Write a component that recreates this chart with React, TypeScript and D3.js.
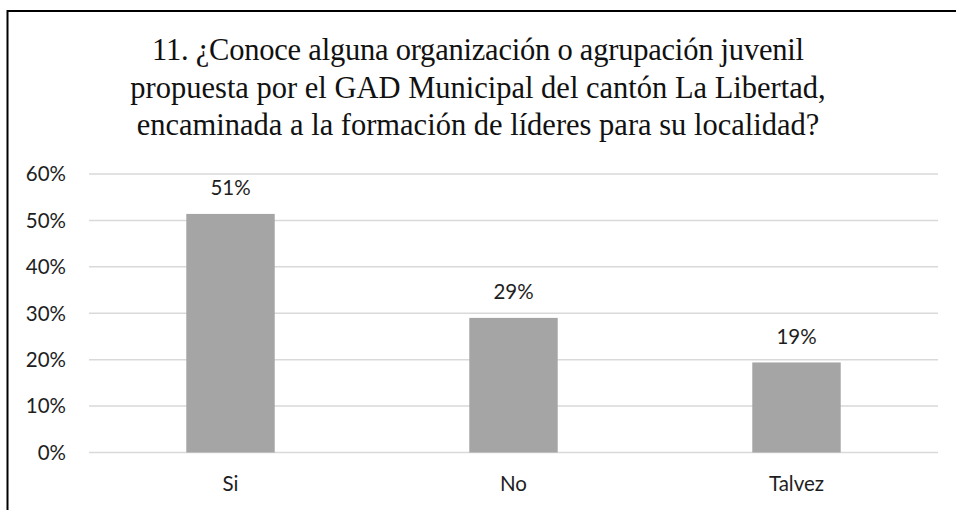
import React from "react";
import * as d3 from "d3";

const categories = ["Si", "No", "Talvez"];
const values = [0.514, 0.29, 0.194];
const valueLabels = ["51%", "29%", "19%"];
const yTicks = [0, 0.1, 0.2, 0.3, 0.4, 0.5, 0.6];
const titleLines = [
  "11. ¿Conoce alguna organización o agrupación juvenil",
  "propuesta por el GAD Municipal del cantón La Libertad,",
  "encaminada a la formación de líderes para su localidad?",
];

const W = 956;
const H = 510;
const plot = { left: 89, right: 938, top: 174, bottom: 452.5 };

export default function App() {
  const x = d3.scaleBand<string>().domain(categories).range([plot.left, plot.right]).padding(0);
  const y = d3.scaleLinear().domain([0, 0.6]).range([plot.bottom, plot.top]);
  const barW = x.bandwidth() * 0.3125;
  const fmt = d3.format(".0%");
  const labelFont = "Lato, 'Open Sans', sans-serif";
  const fs = 20.5;

  return (
    <svg
      width={W}
      height={H}
      style={{ position: "absolute", left: 0, top: 0, background: "#fff" }}
    >
      <rect x={7.5} y={11} width={W + 10} height={H + 10} fill="#fff" stroke="#000" strokeWidth={2} />
      {titleLines.map((t, i) => (
        <text
          key={i}
          x={478}
          y={60 + i * 37.5}
          textAnchor="middle"
          fontFamily="'Liberation Serif', 'Times New Roman', serif"
          fontSize={30.5}
          fill="#111"
          textLength={i === 0 ? 652 : undefined}
        >
          {t}
        </text>
      ))}
      {yTicks.map((t) => (
        <g key={t}>
          <line x1={plot.left} x2={plot.right} y1={y(t)} y2={y(t)} stroke="#d9d9d9" strokeWidth={1.5} />
          <text
            x={66}
            y={y(t)}
            dy="0.36em"
            textAnchor="end"
            fontFamily={labelFont}
            fontSize={fs}
            fill="#1e1e1e"
          >
            {fmt(t)}
          </text>
        </g>
      ))}
      {categories.map((c, i) => {
        const cx = (x(c) as number) + x.bandwidth() / 2;
        return (
          <g key={c}>
            <rect x={cx - barW / 2} y={y(values[i])} width={barW} height={y(0) - y(values[i])} fill="#a5a5a5" />
            <text x={cx} y={y(values[i]) - 18.5} textAnchor="middle" fontFamily={labelFont} fontSize={fs} fill="#1e1e1e">
              {valueLabels[i]}
            </text>
            <text x={cx} y={490.5} textAnchor="middle" fontFamily={labelFont} fontSize={fs} fill="#1e1e1e">
              {c}
            </text>
          </g>
        );
      })}
    </svg>
  );
}
